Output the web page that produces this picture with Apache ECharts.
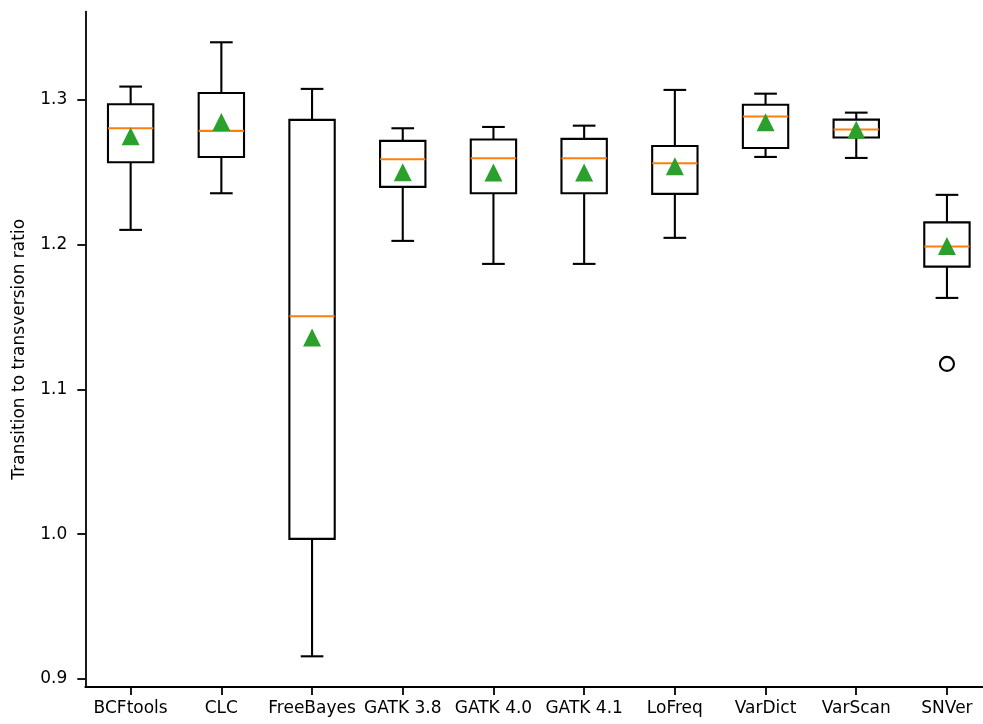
<!DOCTYPE html>
<html><head><meta charset="utf-8">
<script src="https://cdn.jsdelivr.net/npm/echarts@6/dist/echarts.min.js"></script>
<style>html,body{margin:0;padding:0;background:#fff}#c{width:983px;height:724px}</style>
</head><body><div id="c"></div>
<script>
const categories = ['BCFtools','CLC','FreeBayes','GATK 3.8','GATK 4.0','GATK 4.1','LoFreq','VarDict','VarScan','SNVer'];
const whiskerLow  = [1.2102,1.2355,0.9156,1.2026,1.1867,1.1867,1.2047,1.2606,1.2599,1.1632];
const q1          = [1.2569,1.2606,0.9967,1.2399,1.2355,1.2355,1.2351,1.2668,1.2740,1.1848];
const median      = [1.2804,1.2786,1.1505,1.2590,1.2597,1.2597,1.2562,1.2885,1.2795,1.1987];
const q3          = [1.2970,1.3048,1.2862,1.2717,1.2726,1.2731,1.2682,1.2966,1.2864,1.2154];
const whiskerHigh = [1.3092,1.3398,1.3076,1.2804,1.2813,1.2822,1.3069,1.3043,1.2912,1.2344];
const means       = [1.2748,1.2847,1.1359,1.2501,1.2499,1.2499,1.2541,1.2845,1.2793,1.1990];
const outlierCats = ['SNVer'];
const outlierVals = [1.1176];
const yTicks = [0.9,1.0,1.1,1.2,1.3];

const FONT = 'DejaVu Sans';
const LW = 2.1;
const AW = 1.8;

const boxData = categories.map((c,i)=>[i, whiskerLow[i], q1[i], median[i], q3[i], whiskerHigh[i]]);
const meanData = categories.map((c,i)=>[i, means[i]]);
const outlierData = outlierCats.map((c,k)=>[categories.indexOf(c), outlierVals[k]]);

function renderBox(params, api){
  const i = api.value(0);
  const bw = api.size([1,0])[0];
  const hb = bw*0.25, hc = bw*0.125;
  const x = api.coord([i, api.value(1)])[0];
  const yLow = api.coord([i, api.value(1)])[1];
  const yQ1 = api.coord([i, api.value(2)])[1];
  const yMed = api.coord([i, api.value(3)])[1];
  const yQ3 = api.coord([i, api.value(4)])[1];
  const yHigh = api.coord([i, api.value(5)])[1];
  const st = {stroke:'#000', lineWidth:LW, fill:null};
  return {type:'group', children:[
    {type:'line', shape:{x1:x,y1:yLow,x2:x,y2:yQ1}, style:st},
    {type:'line', shape:{x1:x,y1:yQ3,x2:x,y2:yHigh}, style:st},
    {type:'line', shape:{x1:x-hc,y1:yLow,x2:x+hc,y2:yLow}, style:st},
    {type:'line', shape:{x1:x-hc,y1:yHigh,x2:x+hc,y2:yHigh}, style:st},
    {type:'rect', shape:{x:x-hb,y:yQ3,width:2*hb,height:yQ1-yQ3}, style:{stroke:'#000',lineWidth:LW,fill:'rgba(0,0,0,0)'}},
    {type:'line', shape:{x1:x-hb,y1:yMed,x2:x+hb,y2:yMed}, style:{stroke:'#ff7f0e',lineWidth:LW}}
  ]};
}

const chart = echarts.init(document.getElementById('c'), null, {renderer:'canvas'});
chart.setOption({
  animation:false,
  backgroundColor:'#fff',
  grid:{left:85.3, top:11.6, width:907, height:675.4, containLabel:false, outerBoundsMode:'none'},
  xAxis:{
    type:'category', data:categories, boundaryGap:true,
    axisLine:{show:true, lineStyle:{color:'#000', width:AW}},
    axisTick:{show:true, alignWithLabel:true, length:8, lineStyle:{color:'#000', width:AW}},
    axisLabel:{color:'#000', fontSize:17, fontFamily:FONT, margin:13, interval:0},
    splitLine:{show:false}
  },
  yAxis:{
    type:'value', min:0.8944, max:1.361,
    name:'Transition to transversion ratio', nameLocation:'middle', nameGap:57, nameRotate:90,
    nameTextStyle:{color:'#000', fontSize:17, fontFamily:FONT},
    axisLine:{show:true, lineStyle:{color:'#000', width:AW}},
    axisTick:{show:true, length:8, customValues:yTicks, lineStyle:{color:'#000', width:AW}},
    axisLabel:{color:'#000', fontSize:17, fontFamily:FONT, margin:18, customValues:yTicks,
      formatter:v=>Number(v).toFixed(1)},
    splitLine:{show:false}
  },
  series:[
    {type:'custom', renderItem:renderBox, data:boxData, encode:{x:0, y:[1,2,3,4,5]}, z:2, silent:true},
    {type:'scatter', data:outlierData, symbol:'circle', symbolSize:14,
      itemStyle:{color:'rgba(0,0,0,0)', borderColor:'#000', borderWidth:LW, opacity:1}, z:3, silent:true},
    {type:'scatter', data:meanData, symbol:'triangle', symbolSize:18,
      itemStyle:{color:'#2ca02c', opacity:1}, z:4, silent:true}
  ]
});
</script>
</body></html>
